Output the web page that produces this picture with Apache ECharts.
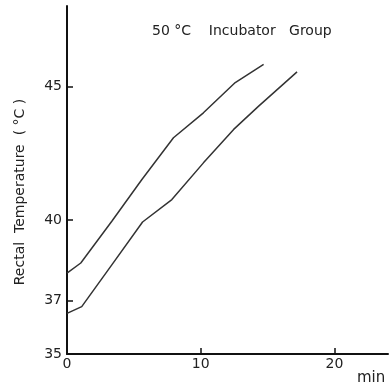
<!DOCTYPE html>
<html>
<head>
<meta charset="utf-8">
<script src="https://cdn.jsdelivr.net/npm/echarts@6/dist/echarts.min.js"></script>
<style>html,body{margin:0;padding:0;background:#fff}#c{width:391px;height:384px}</style>
</head>
<body>
<div id="c"></div>
<script>
const titleText = '50 °C    Incubator   Group';
const yAxisName = 'Rectal  Temperature  ( °C )';
const xAxisName = 'min';
const xTickValues = [10, 20];
const xLabelValues = [0, 10, 20];
const yTickValues = [37, 40, 45];
const yLabelValues = [35, 37, 40, 45];
const upperTime = [0, 1.03, 3.35, 5.6, 7.96, 10.2, 12.58, 14.7];
const upperTemp = [38.02, 38.4, 39.96, 41.52, 43.08, 44.01, 45.14, 45.82];
const lowerTime = [0, 1.1, 3.35, 5.65, 7.84, 10.2, 12.46, 14.33, 17.2];
const lowerTemp = [36.52, 36.77, 38.33, 39.93, 40.77, 42.14, 43.39, 44.26, 45.54];

const zip = (a, b) => a.map((v, i) => [v, b[i]]);
const font = 'DejaVu Sans';
const chart = echarts.init(document.getElementById('c'));
chart.setOption({
  animation: false,
  backgroundColor: '#fff',
  title: [
    { text: titleText, left: 147, top: 19, textStyle: { fontFamily: font, fontSize: 14, fontWeight: 'normal', color: '#222' } },
    { text: xAxisName, left: 352, top: 366, textStyle: { fontFamily: font, fontSize: 15, fontWeight: 'normal', color: '#222' } }
  ],
  graphic: [{
    type: 'text', x: 20, y: 192, rotation: Math.PI / 2,
    style: { text: yAxisName, font: '14px "DejaVu Sans"', fill: '#222', align: 'center', verticalAlign: 'middle' }
  }],
  grid: { left: 67, right: 3, top: 6, bottom: 30, containLabel: false },
  xAxis: {
    type: 'value', min: 0, max: 24,
    axisLine: { lineStyle: { color: '#111', width: 2 } },
    axisTick: { inside: true, length: 6, customValues: xTickValues, lineStyle: { color: '#111', width: 1.5 } },
    axisLabel: { customValues: xLabelValues, fontFamily: font, fontSize: 14, color: '#222', margin: 3 },
    splitLine: { show: false }
  },
  yAxis: {
    type: 'value', min: 35, max: 48,
    axisLine: { lineStyle: { color: '#111', width: 2 } },
    axisTick: { inside: true, length: 6, customValues: yTickValues, lineStyle: { color: '#111', width: 1.5 } },
    axisLabel: { customValues: yLabelValues, fontFamily: font, fontSize: 14, color: '#222', margin: 5 },
    splitLine: { show: false }
  },
  series: [
    { type: 'line', data: zip(upperTime, upperTemp), showSymbol: false, lineStyle: { color: '#333', width: 1.5 } },
    { type: 'line', data: zip(lowerTime, lowerTemp), showSymbol: false, lineStyle: { color: '#333', width: 1.5 } }
  ]
});
</script>
</body>
</html>
